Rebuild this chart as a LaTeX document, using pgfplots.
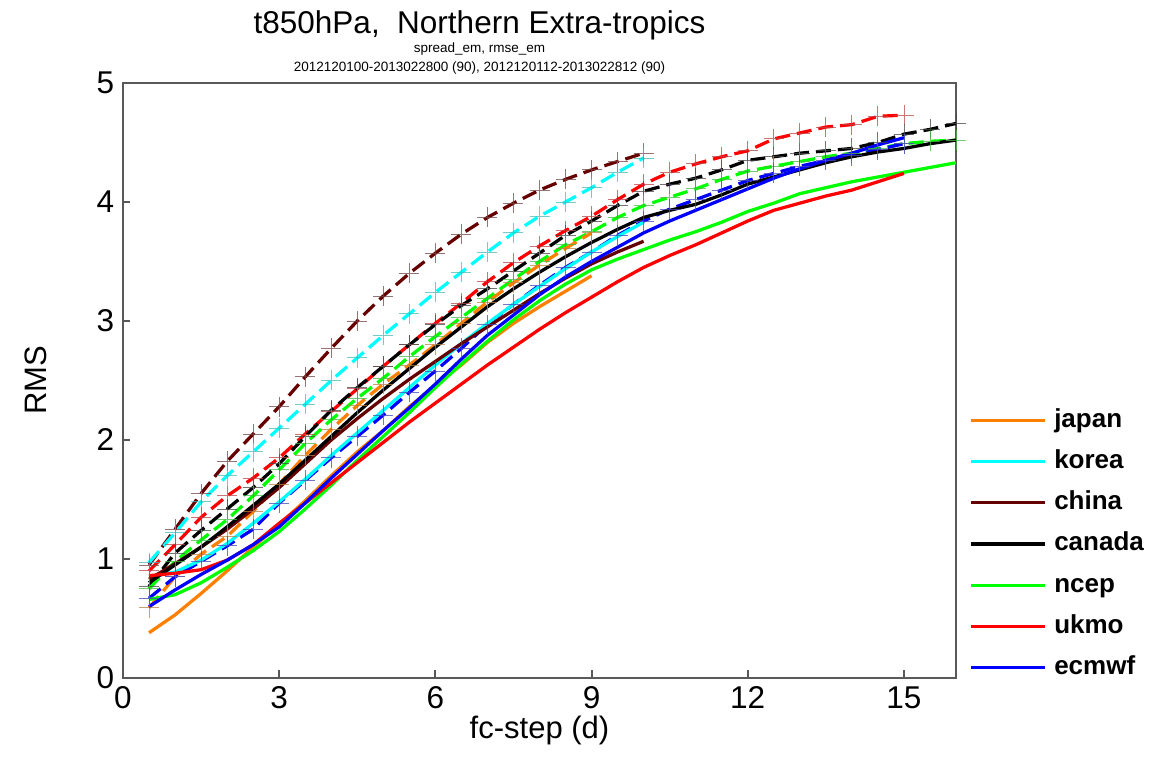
\documentclass[border=0pt]{standalone}
\usepackage{pgfplots}
\usepackage{pgfplotstable}
\pgfplotsset{compat=1.18}
\usepackage{fontspec}
\setmainfont{Liberation Sans}

\definecolor{japanc}{RGB}{255,128,0}
\definecolor{koreac}{RGB}{0,255,255}
\definecolor{chinac}{RGB}{102,0,0}
\definecolor{canadac}{RGB}{0,0,0}
\definecolor{ncepc}{RGB}{0,255,0}
\definecolor{ukmoc}{RGB}{255,0,0}
\definecolor{ecmwfc}{RGB}{0,0,255}

% d = fc-step (days), rmse = rmse_em (solid), spread = spread_em (dashed)
\pgfplotstableread{
d rmse spread
0.5 0.38 0.59
1.0 0.53 0.85
1.5 0.71 1.04
2.0 0.90 1.19
2.5 1.10 1.40
3.0 1.29 1.63
3.5 1.49 1.87
4.0 1.70 2.09
4.5 1.90 2.29
5.0 2.08 2.47
5.5 2.28 2.63
6.0 2.46 2.80
6.5 2.63 2.98
7.0 2.82 3.16
7.5 2.98 3.32
8.0 3.12 3.47
8.5 3.25 3.61
9.0 3.38 3.74
}\japan

\pgfplotstableread{
d rmse spread
0.5 0.85 0.97
1.0 0.89 1.22
1.5 0.99 1.48
2.0 1.13 1.70
2.5 1.30 1.90
3.0 1.48 2.10
3.5 1.67 2.30
4.0 1.87 2.50
4.5 2.06 2.69
5.0 2.25 2.88
5.5 2.44 3.06
6.0 2.63 3.24
6.5 2.81 3.41
7.0 2.98 3.58
7.5 3.14 3.74
8.0 3.29 3.88
8.5 3.44 4.00
9.0 3.58 4.12
9.5 3.71 4.25
10.0 3.83 4.37
}\korea

\pgfplotstableread{
d rmse spread
0.5 0.83 0.95
1.0 0.96 1.25
1.5 1.10 1.55
2.0 1.25 1.82
2.5 1.42 2.05
3.0 1.60 2.28
3.5 1.80 2.53
4.0 2.00 2.77
4.5 2.18 3.00
5.0 2.35 3.21
5.5 2.51 3.40
6.0 2.66 3.57
6.5 2.81 3.73
7.0 2.95 3.87
7.5 3.09 3.99
8.0 3.23 4.10
8.5 3.36 4.19
9.0 3.48 4.27
9.5 3.58 4.34
10.0 3.67 4.41
}\china

\pgfplotstableread{
d rmse spread
0.5 0.80 0.77
1.0 0.95 1.05
1.5 1.10 1.24
2.0 1.27 1.42
2.5 1.45 1.60
3.0 1.63 1.80
3.5 1.83 2.03
4.0 2.03 2.25
4.5 2.23 2.44
5.0 2.42 2.62
5.5 2.60 2.80
6.0 2.78 2.97
6.5 2.95 3.13
7.0 3.12 3.27
7.5 3.27 3.42
8.0 3.41 3.57
8.5 3.54 3.72
9.0 3.66 3.84
9.5 3.77 3.97
10.0 3.87 4.09
10.5 3.93 4.15
11.0 3.98 4.20
11.5 4.06 4.27
12.0 4.15 4.35
12.5 4.21 4.38
13.0 4.27 4.41
13.5 4.33 4.43
14.0 4.38 4.45
14.5 4.42 4.50
15.0 4.45 4.57
15.5 4.49 4.61
16.0 4.52 4.66
}\canada

\pgfplotstableread{
d rmse spread
0.5 0.66 0.75
1.0 0.70 0.98
1.5 0.80 1.16
2.0 0.93 1.33
2.5 1.07 1.53
3.0 1.23 1.75
3.5 1.42 1.97
4.0 1.62 2.17
4.5 1.83 2.35
5.0 2.03 2.52
5.5 2.23 2.70
6.0 2.44 2.87
6.5 2.64 3.03
7.0 2.83 3.19
7.5 3.01 3.35
8.0 3.17 3.50
8.5 3.31 3.64
9.0 3.43 3.75
9.5 3.52 3.87
10.0 3.60 3.97
10.5 3.68 4.04
11.0 3.75 4.11
11.5 3.83 4.19
12.0 3.92 4.26
12.5 3.99 4.30
13.0 4.07 4.34
13.5 4.12 4.38
14.0 4.17 4.41
14.5 4.21 4.45
15.0 4.25 4.49
15.5 4.29 4.51
16.0 4.33 4.52
}\ncep

\pgfplotstableread{
d rmse spread
0.5 0.86 0.90
1.0 0.88 1.12
1.5 0.91 1.35
2.0 0.99 1.53
2.5 1.12 1.68
3.0 1.30 1.85
3.5 1.47 2.05
4.0 1.64 2.24
4.5 1.81 2.43
5.0 1.98 2.62
5.5 2.15 2.80
6.0 2.31 2.98
6.5 2.47 3.15
7.0 2.63 3.33
7.5 2.78 3.49
8.0 2.93 3.63
8.5 3.07 3.76
9.0 3.20 3.88
9.5 3.33 4.02
10.0 3.45 4.15
10.5 3.55 4.25
11.0 3.64 4.32
11.5 3.74 4.38
12.0 3.84 4.43
12.5 3.93 4.53
13.0 3.99 4.58
13.5 4.05 4.63
14.0 4.10 4.65
14.5 4.17 4.72
15.0 4.24 4.73
}\ukmo

\pgfplotstableread{
d rmse spread
0.5 0.60 0.67
1.0 0.74 0.85
1.5 0.87 0.98
2.0 0.99 1.11
2.5 1.12 1.25
3.0 1.27 1.47
3.5 1.47 1.66
4.0 1.68 1.85
4.5 1.88 2.03
5.0 2.08 2.21
5.5 2.27 2.40
6.0 2.47 2.58
6.5 2.68 2.77
7.0 2.88 2.97
7.5 3.05 3.14
8.0 3.22 3.30
8.5 3.37 3.45
9.0 3.50 3.58
9.5 3.62 3.72
10.0 3.74 3.84
10.5 3.84 3.94
11.0 3.93 4.02
11.5 4.02 4.10
12.0 4.11 4.18
12.5 4.20 4.24
13.0 4.28 4.30
13.5 4.35 4.35
14.0 4.41 4.39
14.5 4.48 4.44
15.0 4.54 4.49
}\ecmwf

\pgfplotsset{
  spread/.style={draw=#1, line width=1.3pt, dash pattern=on 6pt off 2.8pt,
    mark=+, mark size=4pt,
    mark options={solid, line width=0.35pt, draw=#1!45!gray, draw opacity=0.75}, forget plot},
  rmse/.style={draw=#1, line width=1.3pt, no markers},
}

\begin{document}
\begin{tikzpicture}
\begin{axis}[
  scale only axis,
  width=333.2pt, height=238pt,
  xmin=0, xmax=16, ymin=0, ymax=5,
  xtick={0,3,6,9,12,15}, ytick={0,1,2,3,4,5},
  tick pos=left, tick align=inside, major tick length=3pt,
  axis line style={black!65, line width=0.8pt},
  every tick/.style={black!65, line width=0.8pt},
  /pgf/number format/assume math mode=true,
  tick label style={font=\fontsize{12.6}{12.6}\selectfont},
  xlabel={fc-step (d)}, ylabel={RMS},
  label style={font=\fontsize{12.4}{12.4}\selectfont},
  xlabel style={at={(axis description cs:0.5,-0.089)}, anchor=center},
  ylabel style={at={(axis description cs:-0.105,0.5)}, anchor=center},
  clip=false,
  legend cell align=left,
  legend image code/.code={\draw[#1] (0pt,0pt) -- (29.6pt,0pt);},
  legend style={at={(1,0.456)}, anchor=north west, xshift=5.2pt,
    draw=none, fill=none, inner sep=0pt, row sep=6pt,
    font=\bfseries\fontsize{10.4}{10.4}\selectfont,
    nodes={inner sep=0pt, text height=8pt, text depth=2.5pt},
    /tikz/every odd column/.append style={column sep=3pt}},
]
\path (rel axis cs:-0.14766,-0.13782) rectangle (rel axis cs:1.24130,1.13950);

\node[anchor=base, font=\fontsize{12.6}{12.6}\selectfont] at (rel axis cs:0.428,1.0824) {t850hPa,\ \ Northern Extra-tropics};
\node[anchor=base, font=\fontsize{5.4}{5.4}\selectfont] at (rel axis cs:0.428,1.052) {spread\_em, rmse\_em};
\node[anchor=base, font=\fontsize{5.4}{5.4}\selectfont] at (rel axis cs:0.428,1.0185) {2012120100-2013022800 (90), 2012120112-2013022812 (90)};

\addplot[spread=chinac] table[x=d, y=spread] {\china};
\addplot[spread=koreac] table[x=d, y=spread] {\korea};
\addplot[spread=ukmoc] table[x=d, y=spread] {\ukmo};
\addplot[spread=canadac] table[x=d, y=spread] {\canada};
\addplot[spread=ncepc] table[x=d, y=spread] {\ncep};
\addplot[spread=japanc] table[x=d, y=spread] {\japan};
\addplot[spread=ecmwfc] table[x=d, y=spread] {\ecmwf};

\addplot[rmse=japanc] table[x=d, y=rmse] {\japan};
\addlegendentry{japan}
\addplot[rmse=koreac] table[x=d, y=rmse] {\korea};
\addlegendentry{korea}
\addplot[rmse=chinac] table[x=d, y=rmse] {\china};
\addlegendentry{china}
\addplot[rmse=canadac] table[x=d, y=rmse] {\canada};
\addlegendentry{canada}
\addplot[rmse=ncepc] table[x=d, y=rmse] {\ncep};
\addlegendentry{ncep}
\addplot[rmse=ukmoc] table[x=d, y=rmse] {\ukmo};
\addlegendentry{ukmo}
\addplot[rmse=ecmwfc] table[x=d, y=rmse] {\ecmwf};
\addlegendentry{ecmwf}
\end{axis}
\end{tikzpicture}
\end{document}
